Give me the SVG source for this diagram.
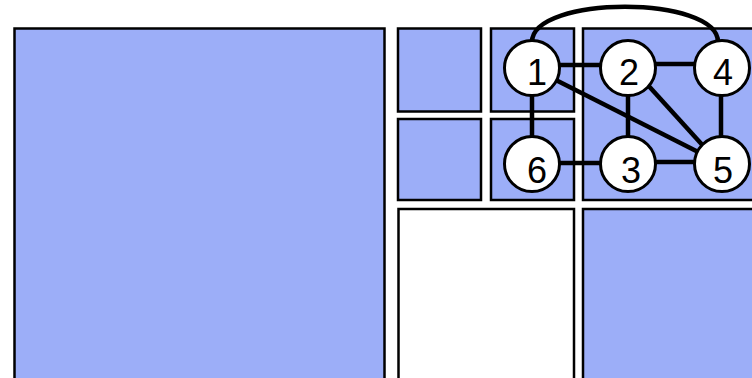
<svg xmlns="http://www.w3.org/2000/svg" width="752" height="378" viewBox="0 0 752 378">
<style>
.cell{fill:#9CAEF8;stroke:#000;stroke-width:2.5}
.empty{fill:#fff;stroke:#000;stroke-width:2.5}
.edge{stroke:#000;stroke-width:4.5;fill:none}
.node circle{fill:#fff;stroke:#000;stroke-width:3}
.node text{font-family:"Liberation Sans",Arial,sans-serif;font-size:36px;fill:#000;text-anchor:middle}
</style>
<rect width="752" height="378" fill="#fff"/>
<g id="cells">
<rect class="cell" x="14.5" y="28.5" width="370" height="370"/>
<rect class="cell" x="398" y="28.5" width="83" height="83"/>
<rect class="cell" x="491" y="28.5" width="83" height="83"/>
<rect class="cell" x="398" y="119" width="83" height="81"/>
<rect class="cell" x="491" y="119" width="83" height="81"/>
<rect class="cell" x="583" y="28.5" width="190" height="171.5"/>
<rect class="empty" x="398.5" y="209" width="175.5" height="190"/>
<rect class="cell" x="583" y="209" width="190" height="190"/>
</g>
<g id="connectors">
<path class="edge" d="M532,42 C532,-5 718,-5 718,42"/>
<line class="edge" x1="532" y1="65" x2="628" y2="65"/>
<line class="edge" x1="628" y1="64" x2="722" y2="64"/>
<line class="edge" x1="532" y1="68" x2="532" y2="164"/>
<line class="edge" x1="532" y1="163" x2="628" y2="163"/>
<line class="edge" x1="628" y1="162" x2="722" y2="162"/>
<line class="edge" x1="628" y1="68" x2="628" y2="164"/>
<line class="edge" x1="721" y1="68" x2="721" y2="164"/>
<line class="edge" x1="540" y1="72" x2="714" y2="160"/>
<line class="edge" x1="636" y1="72" x2="716" y2="160"/>
</g>
<g id="node1" class="node"><circle cx="532" cy="68" r="27.5"/><text x="537" y="85">1</text></g>
<g id="node2" class="node"><circle cx="628" cy="68" r="27.5"/><text x="629" y="85">2</text></g>
<g id="node4" class="node"><circle cx="722" cy="68" r="27.5"/><text x="723" y="85">4</text></g>
<g id="node6" class="node"><circle cx="532" cy="164" r="27.5"/><text x="537" y="183">6</text></g>
<g id="node3" class="node"><circle cx="628" cy="164" r="27.5"/><text x="631" y="183">3</text></g>
<g id="node5" class="node"><circle cx="722" cy="164" r="27.5"/><text x="723" y="183">5</text></g>
</svg>
